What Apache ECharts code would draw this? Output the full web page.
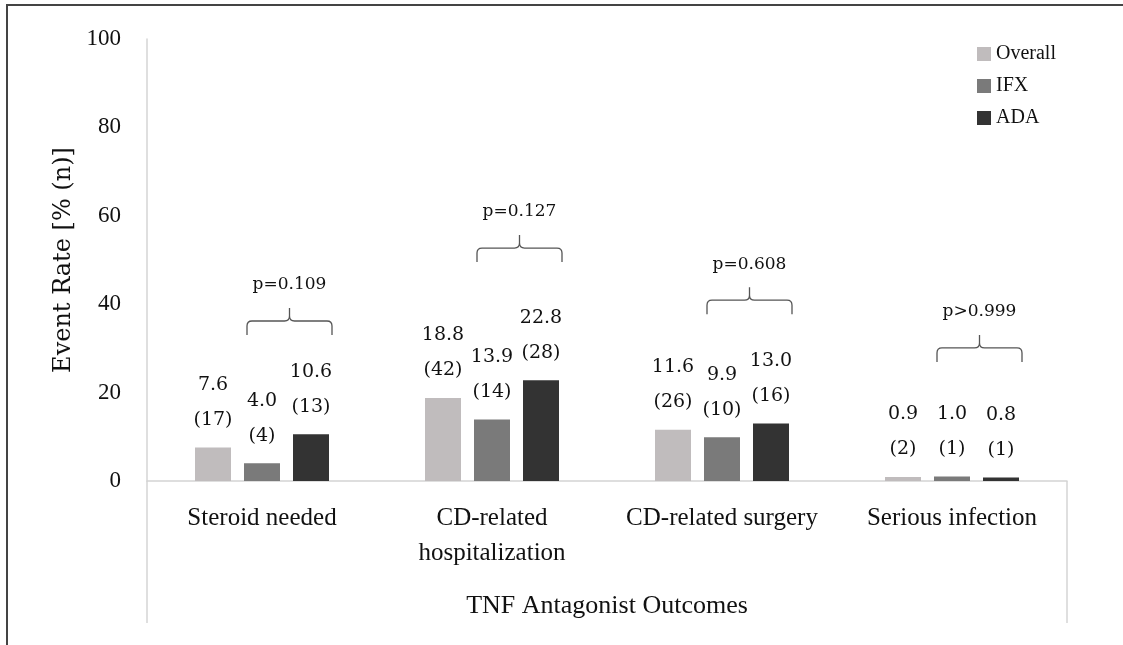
<!DOCTYPE html>
<html>
<head>
<meta charset="utf-8">
<script src="https://cdn.jsdelivr.net/npm/echarts@6/dist/echarts.min.js"></script>
<style>
  html, body { margin: 0; padding: 0; background: #ffffff; }
  #chart { width: 1123px; height: 645px; }
</style>
</head>
<body>
<div id="chart"></div>
<script>
// ---- Data ----
const categories = ['Steroid needed', 'CD-related\nhospitalization', 'CD-related surgery', 'Serious infection'];
const seriesNames = ['Overall', 'IFX', 'ADA'];
const overallRate = [7.6, 18.8, 11.6, 0.9];
const ifxRate = [4.0, 13.9, 9.9, 1.0];
const adaRate = [10.6, 22.8, 13.0, 0.8];
const overallN = [17, 42, 26, 2];
const ifxN = [4, 14, 10, 1];
const adaN = [13, 28, 16, 1];
const pLabels = ['p=0.109', 'p=0.127', 'p=0.608', 'p>0.999'];
const pBracketLevel = [36.2, 52.7, 40.9, 30.1];
const yMin = 0, yMax = 100, yStep = 20;

// ---- Layout / style ----
const GRID = { left: 147, right: 56, top: 39, bottom: 164 };
const W = 1123, H = 645;
const BAR_W = 36, BAR_GAP = 13;
const colors = ['#c0bcbd', '#7a7a7a', '#333333'];
const numFont = 'DejaVu Serif';
const textFont = 'Liberation Serif';

const chart = echarts.init(document.getElementById('chart'), null, { renderer: 'canvas' });

function barSeries(name, rates, counts, color) {
  return {
    name: name,
    type: 'bar',
    data: rates,
    barWidth: BAR_W,
    barGap: (BAR_GAP / BAR_W * 100) + '%',
    itemStyle: { color: color },
    label: {
      show: true,
      position: 'top',
      distance: 10,
      formatter: function (p) {
        return p.value.toFixed(1) + '\n(' + counts[p.dataIndex] + ')';
      },
      fontFamily: numFont,
      fontSize: 19,
      lineHeight: 35,
      color: '#111',
      align: 'center'
    }
  };
}

const plotRight = W - GRID.right;
const axisBottom = H - GRID.bottom;
const extBottom = 623;

const option = {
  backgroundColor: '#ffffff',
  animation: false,
  grid: { left: GRID.left, right: GRID.right, top: GRID.top, bottom: GRID.bottom, containLabel: false },
  legend: {
    data: seriesNames,
    orient: 'vertical',
    left: 972,
    top: 39,
    icon: 'rect',
    itemWidth: 14,
    itemHeight: 14,
    itemGap: 12,
    textStyle: { fontFamily: textFont, fontSize: 20, color: '#111' }
  },
  xAxis: {
    type: 'category',
    data: categories,
    axisLine: { show: true, lineStyle: { color: '#d4d4d4', width: 1.5 } },
    axisTick: { show: false },
    axisLabel: {
      fontFamily: textFont, fontSize: 25, lineHeight: 35, color: '#111', margin: 20, interval: 0
    },
    name: 'TNF Antagonist Outcomes',
    nameLocation: 'middle',
    nameGap: 112,
    nameTextStyle: { fontFamily: textFont, fontSize: 26, color: '#111' }
  },
  yAxis: {
    type: 'value',
    min: yMin, max: yMax, interval: yStep,
    axisLine: { show: true, lineStyle: { color: '#d4d4d4', width: 1.5 } },
    axisTick: { show: false },
    splitLine: { show: false },
    axisLabel: { fontFamily: textFont, fontSize: 23, color: '#111', margin: 26 },
    name: 'Event Rate [% (n)]',
    nameLocation: 'middle',
    nameGap: 66,
    nameTextStyle: { fontFamily: numFont, fontSize: 24, color: '#111' }
  },
  series: [
    barSeries(seriesNames[0], overallRate, overallN, colors[0]),
    barSeries(seriesNames[1], ifxRate, ifxN, colors[1]),
    barSeries(seriesNames[2], adaRate, adaN, colors[2]),
    {
      type: 'custom',
      name: 'brackets',
      silent: true,
      data: pBracketLevel.map(function (v, i) { return [i, v]; }),
      renderItem: function (params, api) {
        const i = api.value(0);
        const pt = api.coord([i, api.value(1)]);
        const cx = pt[0], y = pt[1];
        const left = cx - BAR_W / 2 + 3;
        const right = cx + BAR_W / 2 + BAR_GAP + BAR_W + 3;
        const mid = (left + right) / 2;
        const r = 5, drop = 14, tip = 13;
        const d = [
          'M', left, y + drop, 'L', left, y + r, 'Q', left, y, left + r, y,
          'L', mid - r, y, 'Q', mid, y, mid, y - r, 'L', mid, y - tip,
          'M', mid, y - r, 'Q', mid, y, mid + r, y,
          'L', right - r, y, 'Q', right, y, right, y + r, 'L', right, y + drop
        ].join(' ');
        return {
          type: 'group',
          children: [
            { type: 'path', shape: { pathData: d }, style: { stroke: '#555', fill: 'none', lineWidth: 1.3 } },
            { type: 'text', x: mid, y: y - 36, style: { text: pLabels[i], fontFamily: numFont, fontSize: 17, fill: '#111', align: 'center', verticalAlign: 'middle' } }
          ]
        };
      },
      z: 5
    }
  ],
  graphic: [
    { type: 'polyline', shape: { points: [[7, H + 10], [7, 5], [W + 10, 5]] }, style: { fill: 'none', stroke: '#444', lineWidth: 2 }, silent: true },
    { type: 'line', shape: { x1: GRID.left, y1: axisBottom, x2: GRID.left, y2: extBottom }, style: { stroke: '#d4d4d4', lineWidth: 1.5 }, silent: true },
    { type: 'line', shape: { x1: plotRight, y1: axisBottom, x2: plotRight, y2: extBottom }, style: { stroke: '#d4d4d4', lineWidth: 1.5 }, silent: true }
  ]
};

chart.setOption(option);
</script>
</body>
</html>
